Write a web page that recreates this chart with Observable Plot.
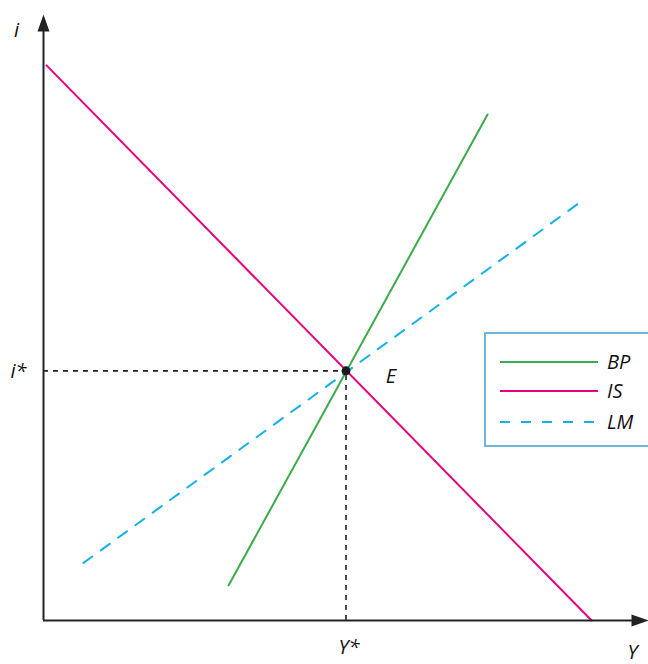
<!DOCTYPE html>
<html>
<head>
<meta charset="utf-8">
<script src="https://cdn.jsdelivr.net/npm/d3@7"></script>
<script src="https://cdn.jsdelivr.net/npm/@observablehq/plot@0.6"></script>
<style>
  html, body { margin: 0; padding: 0; background: #fff; overflow: hidden; }
  #chart { position: relative; width: 648px; height: 664px; }
  #chart svg { overflow: visible; }
</style>
</head>
<body>
<div id="chart"></div>
<script>
// IS–LM–BP diagram: output Y against interest rate i (model units 0–100)
const seriesNames = ["BP", "IS", "LM"];
const seriesColors = ["#3cab49", "#e6007e", "#14b0ea"];
const seriesDash = [null, null, "11 10.4"];

// Endpoints of each curve
const bpY = [30.6, 73.4], bpI = [5.8, 83.5];
const isY = [0.5, 90.6], isI = [91.6, 0.0];
const lmY = [6.6, 88.4], lmI = [9.5, 68.8];

// Equilibrium E
const eqY = 50.0, eqI = 41.2;

// Axis labels
const axisLabels = [
  {text: "i", y: 0, i: 100},
  {text: "i*", y: 0, i: eqI},
  {text: "Y*", y: eqY, i: 0},
  {text: "Y", y: 100, i: 0}
];

const curves = [
  {name: seriesNames[0], ys: bpY, is: bpI},
  {name: seriesNames[1], ys: isY, is: isI},
  {name: seriesNames[2], ys: lmY, is: lmI}
].flatMap(c => c.ys.map((y, k) => ({name: c.name, y, i: c.is[k]})));

// Filled arrowheads (tip at the anchor point)
const arrowUp = {draw(ctx) { ctx.moveTo(0, 0); ctx.lineTo(6, 17); ctx.lineTo(-6, 17); ctx.closePath(); }};
const arrowRight = {draw(ctx) { ctx.moveTo(0, 0); ctx.lineTo(-17, -6); ctx.lineTo(-17, 6); ctx.closePath(); }};

const font = "'Open Sans', Lato, sans-serif";
const axisColor = "#222";
const labelStyle = {fontSize: 20, fontStyle: "italic", fill: "#111"};

const plot = Plot.plot({
  width: 648,
  height: 664,
  marginLeft: 43,
  marginRight: 0,
  marginTop: 14,
  marginBottom: 44,
  x: {domain: [0, 100], axis: null},
  y: {domain: [0, 100], axis: null},
  style: {fontFamily: font, background: "#fff"},
  marks: [
    // dashed guides to E
    Plot.ruleY([eqI], {x1: 0, x2: eqY, stroke: "#222", strokeWidth: 1.6, strokeDasharray: "5 5"}),
    Plot.ruleX([eqY], {y1: 0, y2: eqI, stroke: "#222", strokeWidth: 1.6, strokeDasharray: "5 5"}),
    // curves
    ...seriesNames.map((n, k) => Plot.line(curves.filter(d => d.name === n), {
      x: "y", y: "i", stroke: seriesColors[k], strokeWidth: 2,
      strokeDasharray: seriesDash[k]
    })),
    // axes
    Plot.ruleX([0], {y1: 0, y2: 98, stroke: axisColor, strokeWidth: 2}),
    Plot.ruleY([0], {x1: 0, x2: 98, stroke: axisColor, strokeWidth: 2}),
    Plot.dot([{y: 0, i: 100}], {x: "y", y: "i", symbol: arrowUp, fill: axisColor, stroke: null}),
    Plot.dot([{y: 100, i: 0}], {x: "y", y: "i", symbol: arrowRight, fill: axisColor, stroke: null}),
    // equilibrium point
    Plot.dot([{y: eqY, i: eqI}], {x: "y", y: "i", r: 4.5, fill: "#1a1a1a", stroke: null}),
    Plot.text([{y: eqY, i: eqI}], {x: "y", y: "i", text: () => "E", dx: 45, dy: 6, ...labelStyle}),
    // axis labels
    Plot.text(axisLabels.slice(0, 1), {x: "y", y: "i", text: "text", dx: -27, dy: 16, ...labelStyle}),
    Plot.text(axisLabels.slice(1, 2), {x: "y", y: "i", text: "text", dx: -25, dy: 1, ...labelStyle}),
    Plot.text(axisLabels.slice(2, 3), {x: "y", y: "i", text: "text", dx: 3, dy: 27, ...labelStyle}),
    Plot.text(axisLabels.slice(3, 4), {x: "y", y: "i", text: "text", dx: -16, dy: 32, ...labelStyle})
  ]
});

document.getElementById("chart").appendChild(plot);

// Legend box drawn into the same SVG
const svg = d3.select(plot);
const lg = svg.append("g").attr("transform", "translate(485,333)");
lg.append("rect").attr("x", 0).attr("y", 0).attr("width", 175).attr("height", 113)
  .attr("fill", "#fff").attr("stroke", "#6fb6da").attr("stroke-width", 2);
const rowY = [29, 58, 89];
seriesNames.forEach((n, k) => {
  lg.append("line").attr("x1", 15).attr("x2", 113).attr("y1", rowY[k]).attr("y2", rowY[k])
    .attr("stroke", seriesColors[k]).attr("stroke-width", 2.2)
    .attr("stroke-dasharray", seriesDash[k] ? "10 11" : null);
  lg.append("text").attr("x", 122).attr("y", rowY[k] + 1).attr("dy", "0.32em")
    .attr("text-anchor", "start")
    .attr("font-family", font).attr("font-size", 20).attr("font-style", "italic")
    .attr("fill", "#111").text(n);
});
</script>
</body>
</html>
